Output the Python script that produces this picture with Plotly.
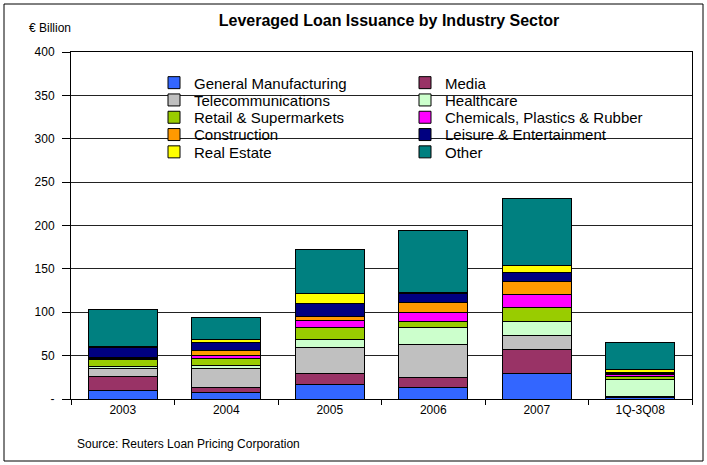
import plotly.graph_objects as go

years = ["2003", "2004", "2005", "2006", "2007", "1Q-3Q08"]

general_manufacturing = [9.6, 7.3, 16.9, 13.5, 29.6, 1.5]
media = [16.9, 5.4, 12.7, 11.1, 27.7, 0.5]
telecommunications = [9.2, 22.3, 30.0, 38.5, 16.2, 1.0]
healthcare = [2.3, 3.8, 8.5, 19.2, 15.7, 19.3]
retail_supermarkets = [7.7, 7.4, 13.8, 6.9, 16.2, 3.9]
chemicals = [1.2, 3.4, 8.5, 10.8, 15.4, 2.5]
construction = [1.1, 6.2, 5.0, 10.8, 14.6, 0.5]
leisure = [11.5, 9.6, 15.0, 10.4, 10.4, 0.8]
real_estate = [0.5, 3.4, 11.5, 1.5, 7.7, 3.9]
other = [43.0, 25.4, 50.0, 72.0, 78.0, 31.2]

series_names = ["General Manufacturing", "Media", "Telecommunications", "Healthcare",
                "Retail & Supermarkets", "Chemicals, Plastics & Rubber", "Construction",
                "Leisure & Entertainment", "Real Estate", "Other"]
series_values = [general_manufacturing, media, telecommunications, healthcare,
                 retail_supermarkets, chemicals, construction, leisure, real_estate, other]
series_colors = ["#3366FF", "#993366", "#C0C0C0", "#CCFFCC", "#99CC00",
                 "#FF00FF", "#FF9900", "#000080", "#FFFF00", "#008080"]

y_tickvals = [0, 50, 100, 150, 200, 250, 300, 350, 400]
y_ticktext = ["-", "50", "100", "150", "200", "250", "300", "350", "400"]

FONT = "Liberation Sans, Arial, sans-serif"
W, H = 707, 465
ML, MR, MT, MB = 71, 15, 52, 66
PW = W - ML - MR
PH = H - MT - MB

def px_to_paper_x(px):
    return (px - ML) / PW

def px_to_paper_y(py):
    return 1 - (py - MT) / PH

fig = go.Figure()
legend_layouts = {}
for i, (name, vals, col) in enumerate(zip(series_names, series_values, series_colors)):
    key = "legend" if i == 0 else f"legend{i + 1}"
    fig.add_trace(go.Bar(
        x=years, y=vals, name=name,
        marker=dict(color=col, line=dict(color="black", width=1)),
        legend=key,
    ))
    row, column = i // 2, i % 2
    text_left = 194 if column == 0 else 445
    row_center = 83.3 + 17.3 * row
    legend_layouts[key] = dict(
        x=px_to_paper_x(text_left - 40), xanchor="left",
        y=px_to_paper_y(row_center - 16.9), yanchor="top",
        bgcolor="rgba(0,0,0,0)", borderwidth=0,
        font=dict(family=FONT, size=15, color="black"),
        traceorder="normal",
    )

fig.update_layout(
    width=W, height=H,
    margin=dict(l=ML, r=MR, t=MT, b=MB),
    paper_bgcolor="white", plot_bgcolor="white",
    barmode="stack", bargap=0.33,
    font=dict(family=FONT, size=12, color="black"),
    title=dict(text="<b>Leveraged Loan Issuance by Industry Sector</b>",
               x=389 / W, xref="container", xanchor="center",
               y=1 - 20 / H, yref="container", yanchor="middle",
               font=dict(family=FONT, size=16, color="black")),
    showlegend=True,
    **legend_layouts,
)

fig.update_xaxes(
    type="category", showline=True, linecolor="black", linewidth=1, mirror=True,
    ticks="outside", tickson="boundaries", ticklen=5, tickcolor="black",
    tickfont=dict(family=FONT, size=12, color="black"), showgrid=False,
)
fig.update_yaxes(
    range=[0, 400], tickvals=y_tickvals, ticktext=y_ticktext,
    showline=True, linecolor="black", linewidth=1, mirror=True,
    ticks="outside", ticklen=8, tickcolor="black", ticklabelstandoff=5,
    showgrid=True, gridcolor="#222222", gridwidth=1, zeroline=False,
    tickfont=dict(family=FONT, size=12, color="black"),
)

# white legend background covering gridlines
fig.add_shape(type="rect", xref="paper", yref="paper",
              x0=px_to_paper_x(165), x1=px_to_paper_x(668),
              y0=px_to_paper_y(165), y1=px_to_paper_y(70),
              fillcolor="white", line=dict(width=0), layer="between")
# outer chart border
fig.add_shape(type="rect", xref="paper", yref="paper",
              x0=px_to_paper_x(4), x1=px_to_paper_x(703),
              y0=px_to_paper_y(461), y1=px_to_paper_y(4),
              fillcolor="rgba(0,0,0,0)", line=dict(color="black", width=1), layer="above")

fig.add_annotation(text="€ Billion", xref="paper", yref="paper",
                   x=px_to_paper_x(27), y=px_to_paper_y(28), xanchor="left", yanchor="middle",
                   showarrow=False, font=dict(family=FONT, size=12, color="black"))
fig.add_annotation(text="Source: Reuters Loan Pricing Corporation", xref="paper", yref="paper",
                   x=px_to_paper_x(75), y=px_to_paper_y(444), xanchor="left", yanchor="middle",
                   showarrow=False, font=dict(family=FONT, size=12, color="black"))

fig.write_html("out.html")
